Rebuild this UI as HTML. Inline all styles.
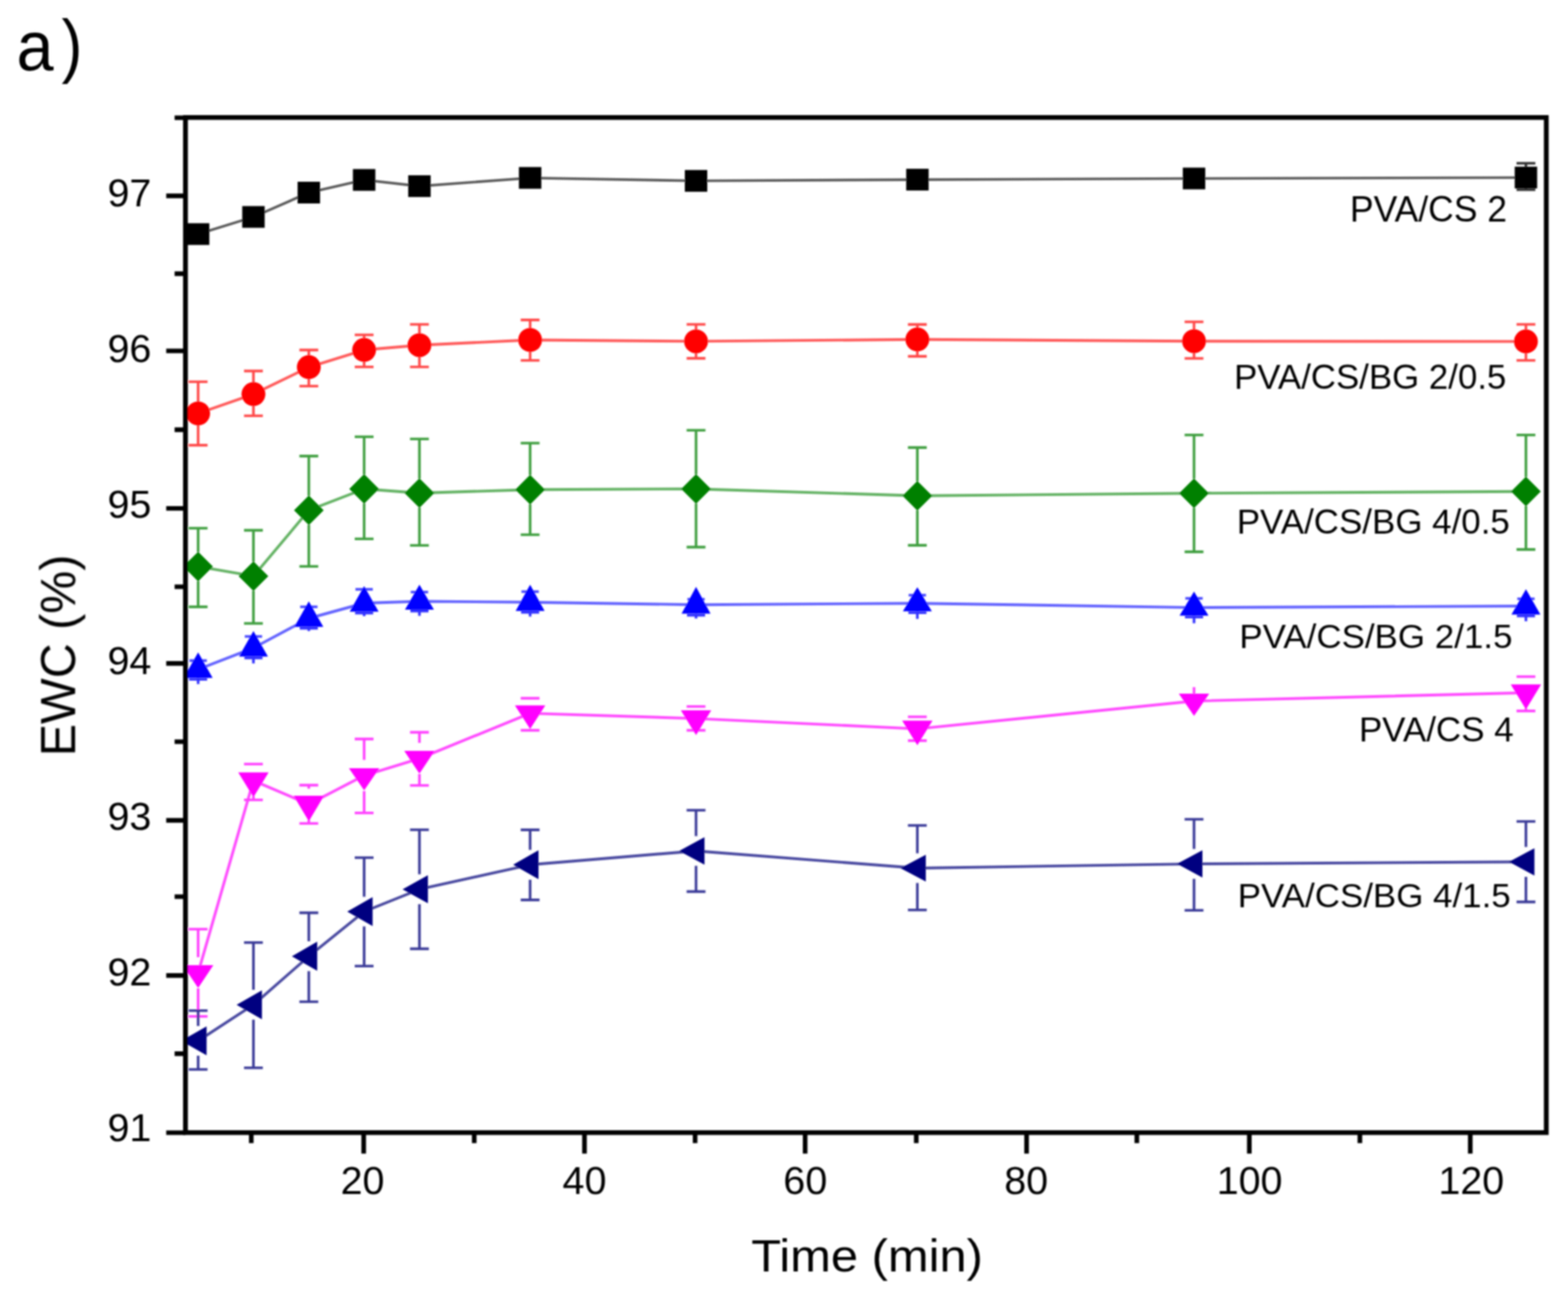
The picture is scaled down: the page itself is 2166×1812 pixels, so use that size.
<!DOCTYPE html>
<html><head><meta charset="utf-8"><title>EWC vs Time</title>
<style>
html,body{margin:0;padding:0;background:#fff;}
svg{display:block;}
text{font-family:'Liberation Sans', Arial, Helvetica, sans-serif;fill:#000;}
</style></head>
<body>
<svg width="2166" height="1812" viewBox="0 0 2166 1812">
<rect width="2166" height="1812" fill="#fff"/>
<defs><filter id="soft" x="0" y="0" width="2166" height="1812" filterUnits="userSpaceOnUse"><feGaussianBlur stdDeviation="0.8"/></filter><clipPath id="pa"><rect x="256.2" y="0" width="1910" height="1812"/></clipPath></defs>
<g filter="url(#soft)">
<g id="series" clip-path="url(#pa)">
<polyline points="273.7,323.3 350.1,299.6 426.6,266 503,248.5 579.4,257.1 732.3,245.7 961.5,249.8 1267.2,248.1 1649.4,246.5 2107.9,245.2" fill="none" stroke="#5a5a5a" stroke-width="3.6" stroke-linejoin="round"/>
<path d="M2107.9 225.5V262M2094.9 225.5H2120.9M2094.9 262H2120.9" stroke="#333" stroke-width="3.6" fill="none"/>
<rect x="258.2" y="308.3" width="31" height="30" fill="#000"/>
<rect x="334.6" y="284.6" width="31" height="30" fill="#000"/>
<rect x="411.1" y="251" width="31" height="30" fill="#000"/>
<rect x="487.5" y="233.5" width="31" height="30" fill="#000"/>
<rect x="563.9" y="242.1" width="31" height="30" fill="#000"/>
<rect x="716.8" y="230.7" width="31" height="30" fill="#000"/>
<rect x="946" y="234.8" width="31" height="30" fill="#000"/>
<rect x="1251.8" y="233.1" width="31" height="30" fill="#000"/>
<rect x="1633.9" y="231.5" width="31" height="30" fill="#000"/>
<rect x="2092.4" y="230.2" width="31" height="30" fill="#000"/>
<polyline points="273.7,571 350.1,544.3 426.6,507.1 503,483.3 579.4,476.7 732.3,469.5 961.5,471.4 1267.2,468.8 1649.4,471.2 2107.9,471.6" fill="none" stroke="#ff5a5a" stroke-width="3.9" stroke-linejoin="round"/>
<path d="M273.7 527.2V555M273.7 587V614.9M260.7 527.2H286.7M260.7 614.9H286.7" stroke="#ff4a4a" stroke-width="3.6" fill="none"/>
<path d="M350.1 512.4V528.3M350.1 560.3V574.3M337.1 512.4H363.1M337.1 574.3H363.1" stroke="#ff4a4a" stroke-width="3.6" fill="none"/>
<path d="M426.6 483.4V491.1M426.6 523.1V533.3M413.6 483.4H439.6M413.6 533.3H439.6" stroke="#ff4a4a" stroke-width="3.6" fill="none"/>
<path d="M503 462.5V467.3M503 499.3V506.7M490 462.5H516M490 506.7H516" stroke="#ff4a4a" stroke-width="3.6" fill="none"/>
<path d="M579.4 448V460.7M579.4 492.7V506.7M566.4 448H592.4M566.4 506.7H592.4" stroke="#ff4a4a" stroke-width="3.6" fill="none"/>
<path d="M732.3 441.9V453.5M732.3 485.5V497.7M719.3 441.9H745.3M719.3 497.7H745.3" stroke="#ff4a4a" stroke-width="3.6" fill="none"/>
<path d="M961.5 448V455.4M961.5 487.4V494.9M948.5 448H974.5M948.5 494.9H974.5" stroke="#ff4a4a" stroke-width="3.6" fill="none"/>
<path d="M1267.2 448.1V452.8M1267.2 484.8V492.1M1254.2 448.1H1280.2M1254.2 492.1H1280.2" stroke="#ff4a4a" stroke-width="3.6" fill="none"/>
<path d="M1649.4 444.5V455.2M1649.4 487.2V495M1636.4 444.5H1662.4M1636.4 495H1662.4" stroke="#ff4a4a" stroke-width="3.6" fill="none"/>
<path d="M2107.9 448V455.6M2107.9 487.6V497.7M2094.9 448H2120.9M2094.9 497.7H2120.9" stroke="#ff4a4a" stroke-width="3.6" fill="none"/>
<circle cx="273.7" cy="571" r="16.5" fill="#f00"/>
<circle cx="350.1" cy="544.3" r="16.5" fill="#f00"/>
<circle cx="426.6" cy="507.1" r="16.5" fill="#f00"/>
<circle cx="503" cy="483.3" r="16.5" fill="#f00"/>
<circle cx="579.4" cy="476.7" r="16.5" fill="#f00"/>
<circle cx="732.3" cy="469.5" r="16.5" fill="#f00"/>
<circle cx="961.5" cy="471.4" r="16.5" fill="#f00"/>
<circle cx="1267.2" cy="468.8" r="16.5" fill="#f00"/>
<circle cx="1649.4" cy="471.2" r="16.5" fill="#f00"/>
<circle cx="2107.9" cy="471.6" r="16.5" fill="#f00"/>
<polyline points="273.7,782.4 350.1,795.7 426.6,704.8 503,675.2 579.4,681 732.3,676.2 961.5,675.2 1267.2,684.8 1649.4,681.2 2107.9,678.8" fill="none" stroke="#64b264" stroke-width="3.9" stroke-linejoin="round"/>
<path d="M273.7 729.5V762.4M273.7 802.4V838.1M260.7 729.5H286.7M260.7 838.1H286.7" stroke="#3f9f3f" stroke-width="3.6" fill="none"/>
<path d="M350.1 732.4V775.7M350.1 815.7V861M337.1 732.4H363.1M337.1 861H363.1" stroke="#3f9f3f" stroke-width="3.6" fill="none"/>
<path d="M426.6 629.9V684.8M426.6 724.8V782.3M413.6 629.9H439.6M413.6 782.3H439.6" stroke="#3f9f3f" stroke-width="3.6" fill="none"/>
<path d="M503 603.2V655.2M503 695.2V744.2M490 603.2H516M490 744.2H516" stroke="#3f9f3f" stroke-width="3.6" fill="none"/>
<path d="M579.4 606.3V661M579.4 701V753.3M566.4 606.3H592.4M566.4 753.3H592.4" stroke="#3f9f3f" stroke-width="3.6" fill="none"/>
<path d="M732.3 612V656.2M732.3 696.2V738.5M719.3 612H745.3M719.3 738.5H745.3" stroke="#3f9f3f" stroke-width="3.6" fill="none"/>
<path d="M961.5 594.3V655.2M961.5 695.2V755.6M948.5 594.3H974.5M948.5 755.6H974.5" stroke="#3f9f3f" stroke-width="3.6" fill="none"/>
<path d="M1267.2 618.1V664.8M1267.2 704.8V753.1M1254.2 618.1H1280.2M1254.2 753.1H1280.2" stroke="#3f9f3f" stroke-width="3.6" fill="none"/>
<path d="M1649.4 600.7V661.2M1649.4 701.2V762.1M1636.4 600.7H1662.4M1636.4 762.1H1662.4" stroke="#3f9f3f" stroke-width="3.6" fill="none"/>
<path d="M2107.9 600.7V658.8M2107.9 698.8V758.9M2094.9 600.7H2120.9M2094.9 758.9H2120.9" stroke="#3f9f3f" stroke-width="3.6" fill="none"/>
<path d="M273.7 761.9L294.2 782.4L273.7 802.9L253.2 782.4Z" fill="#008000"/>
<path d="M350.1 775.2L370.6 795.7L350.1 816.2L329.6 795.7Z" fill="#008000"/>
<path d="M426.6 684.3L447.1 704.8L426.6 725.3L406.1 704.8Z" fill="#008000"/>
<path d="M503 654.7L523.5 675.2L503 695.7L482.5 675.2Z" fill="#008000"/>
<path d="M579.4 660.5L599.9 681L579.4 701.5L558.9 681Z" fill="#008000"/>
<path d="M732.3 655.7L752.8 676.2L732.3 696.7L711.8 676.2Z" fill="#008000"/>
<path d="M961.5 654.7L982 675.2L961.5 695.7L941 675.2Z" fill="#008000"/>
<path d="M1267.2 664.3L1287.8 684.8L1267.2 705.3L1246.8 684.8Z" fill="#008000"/>
<path d="M1649.4 660.7L1669.9 681.2L1649.4 701.7L1628.9 681.2Z" fill="#008000"/>
<path d="M2107.9 658.3L2128.4 678.8L2107.9 699.3L2087.4 678.8Z" fill="#008000"/>
<polyline points="273.7,924.5 350.1,894.9 426.6,854 503,833 579.4,830.5 732.3,831.7 961.5,835.2 1267.2,833.2 1649.4,839.1 2107.9,837" fill="none" stroke="#6464ff" stroke-width="3.9" stroke-linejoin="round"/>
<path d="M261.7 912.4H285.7" stroke="#4a4aff" stroke-width="3.6" fill="none"/>
<path d="M273.7 936.2V944.8M261.2 938.2H286.2" stroke="#3030ff" stroke-width="3.6" fill="none"/>
<path d="M338.1 879H362.1" stroke="#4a4aff" stroke-width="3.6" fill="none"/>
<path d="M350.1 906.7V916.2M337.6 908.7H362.6" stroke="#3030ff" stroke-width="3.6" fill="none"/>
<path d="M414.6 838.1H438.6" stroke="#4a4aff" stroke-width="3.6" fill="none"/>
<path d="M426.6 865.7V871.5M414.1 867.7H439.1" stroke="#3030ff" stroke-width="3.6" fill="none"/>
<path d="M491 813.9H515" stroke="#4a4aff" stroke-width="3.6" fill="none"/>
<path d="M503 844.8V851.1M490.5 846.8H515.5" stroke="#3030ff" stroke-width="3.6" fill="none"/>
<path d="M567.4 817.7H591.4" stroke="#4a4aff" stroke-width="3.6" fill="none"/>
<path d="M579.4 841.9V850.5M566.9 843.9H591.9" stroke="#3030ff" stroke-width="3.6" fill="none"/>
<path d="M720.3 817.1H744.3" stroke="#4a4aff" stroke-width="3.6" fill="none"/>
<path d="M732.3 843.8V851.5M719.8 845.8H744.8" stroke="#3030ff" stroke-width="3.6" fill="none"/>
<path d="M949.5 827.6H973.5" stroke="#4a4aff" stroke-width="3.6" fill="none"/>
<path d="M961.5 847.6V854.3M949 849.6H974" stroke="#3030ff" stroke-width="3.6" fill="none"/>
<path d="M1255.2 822H1279.2" stroke="#4a4aff" stroke-width="3.6" fill="none"/>
<path d="M1267.2 844.3V854.8M1254.8 846.3H1279.8" stroke="#3030ff" stroke-width="3.6" fill="none"/>
<path d="M1637.4 826.4H1661.4" stroke="#4a4aff" stroke-width="3.6" fill="none"/>
<path d="M1649.4 850.2V860.8M1636.9 852.2H1661.9" stroke="#3030ff" stroke-width="3.6" fill="none"/>
<path d="M2095.9 827H2119.9" stroke="#4a4aff" stroke-width="3.6" fill="none"/>
<path d="M2107.9 848.7V858M2095.4 850.7H2120.4" stroke="#3030ff" stroke-width="3.6" fill="none"/>
<path d="M273.7 901L293.7 936.2L253.7 936.2Z" fill="#00f"/>
<path d="M350.1 871.4L370.1 906.7L330.1 906.7Z" fill="#00f"/>
<path d="M426.6 830.5L446.6 865.7L406.6 865.7Z" fill="#00f"/>
<path d="M503 809.5L523 844.8L483 844.8Z" fill="#00f"/>
<path d="M579.4 807.6L599.4 841.9L559.4 841.9Z" fill="#00f"/>
<path d="M732.3 807.6L752.3 843.8L712.3 843.8Z" fill="#00f"/>
<path d="M961.5 810.5L981.5 847.6L941.5 847.6Z" fill="#00f"/>
<path d="M1267.2 811L1287.2 844.3L1247.2 844.3Z" fill="#00f"/>
<path d="M1649.4 816.9L1669.4 850.2L1629.4 850.2Z" fill="#00f"/>
<path d="M2107.9 813.7L2127.9 848.7L2087.9 848.7Z" fill="#00f"/>
<polyline points="273.7,1343.6 350.1,1078.1 426.6,1110.8 503,1071.1 579.4,1047.6 732.3,985.1 961.5,992.4 1267.2,1006.6 1649.4,968.2 2107.9,956.8" fill="none" stroke="#ff4cff" stroke-width="3.9" stroke-linejoin="round"/>
<path d="M273.7 1283.3V1322.1M273.7 1365.1V1403.8M260.7 1283.3H286.7M260.7 1403.8H286.7" stroke="#ff40ff" stroke-width="3.6" fill="none"/>
<path d="M350.1 1055.2V1056.6M350.1 1099.6V1104.8M337.1 1055.2H363.1M337.1 1104.8H363.1" stroke="#ff40ff" stroke-width="3.6" fill="none"/>
<path d="M426.6 1084.4V1089.3M426.6 1132.3V1137.3M413.6 1084.4H439.6M413.6 1137.3H439.6" stroke="#ff40ff" stroke-width="3.6" fill="none"/>
<path d="M503 1020.6V1049.6M503 1092.6V1122.8M490 1020.6H516M490 1122.8H516" stroke="#ff40ff" stroke-width="3.6" fill="none"/>
<path d="M579.4 1011.4V1026.1M579.4 1069.1V1084.8M566.4 1011.4H592.4M566.4 1084.8H592.4" stroke="#ff40ff" stroke-width="3.6" fill="none"/>
<path d="M732.3 1006.6V1008.6M719.3 964.4H745.3M719.3 1008.6H745.3" stroke="#ff40ff" stroke-width="3.6" fill="none"/>
<path d="M948.5 975.8H974.5M948.5 1008.6H974.5" stroke="#ff40ff" stroke-width="3.6" fill="none"/>
<path d="M1254.2 990H1280.2M1254.2 1022.9H1280.2" stroke="#ff40ff" stroke-width="3.6" fill="none"/>
<path d="M1649.4 949V957.9" stroke="#ff40ff" stroke-width="3.6" fill="none"/>
<path d="M2107.9 934.5V935.3M2107.9 978.3V981.9M2094.9 934.5H2120.9M2094.9 981.9H2120.9" stroke="#ff40ff" stroke-width="3.6" fill="none"/>
<path d="M252.7 1333.1L294.7 1333.1L273.7 1364.5Z" fill="#f0f"/>
<path d="M329.1 1066.7L371.1 1066.7L350.1 1101Z" fill="#f0f"/>
<path d="M405.6 1099L447.6 1099L426.6 1134.3Z" fill="#f0f"/>
<path d="M482 1061L524 1061L503 1091.4Z" fill="#f0f"/>
<path d="M558.4 1037.1L600.4 1037.1L579.4 1068.6Z" fill="#f0f"/>
<path d="M711.3 974.3L753.3 974.3L732.3 1006.7Z" fill="#f0f"/>
<path d="M940.5 981L982.5 981L961.5 1015.2Z" fill="#f0f"/>
<path d="M1246.2 995.2L1288.2 995.2L1267.2 1029.3Z" fill="#f0f"/>
<path d="M1628.4 957.9L1670.4 957.9L1649.4 988.8Z" fill="#f0f"/>
<path d="M2086.9 945.3L2128.9 945.3L2107.9 979.8Z" fill="#f0f"/>
<polyline points="273.7,1437.5 350.1,1387.7 426.6,1320.7 503,1259 579.4,1228.2 732.3,1194.3 961.5,1175.2 1267.2,1199 1649.4,1193.1 2107.9,1190.3" fill="none" stroke="#4a4aa0" stroke-width="3.9" stroke-linejoin="round"/>
<path d="M273.7 1395.8V1416.9M273.7 1458.1V1477M260.7 1395.8H286.7M260.7 1477H286.7" stroke="#3a3a98" stroke-width="3.6" fill="none"/>
<path d="M350.1 1301.7V1367.1M350.1 1408.3V1474.8M337.1 1301.7H363.1M337.1 1474.8H363.1" stroke="#3a3a98" stroke-width="3.6" fill="none"/>
<path d="M426.6 1260.6V1300.1M426.6 1341.2V1383.5M413.6 1260.6H439.6M413.6 1383.5H439.6" stroke="#3a3a98" stroke-width="3.6" fill="none"/>
<path d="M503 1184.5V1238.4M503 1279.6V1334.2M490 1184.5H516M490 1334.2H516" stroke="#3a3a98" stroke-width="3.6" fill="none"/>
<path d="M579.4 1146V1207.6M579.4 1248.8V1310.4M566.4 1146H592.4M566.4 1310.4H592.4" stroke="#3a3a98" stroke-width="3.6" fill="none"/>
<path d="M732.3 1146.1V1173.7M732.3 1214.9V1242.9M719.3 1146.1H745.3M719.3 1242.9H745.3" stroke="#3a3a98" stroke-width="3.6" fill="none"/>
<path d="M961.5 1119V1154.7M961.5 1195.8V1231.4M948.5 1119H974.5M948.5 1231.4H974.5" stroke="#3a3a98" stroke-width="3.6" fill="none"/>
<path d="M1267.2 1140V1178.4M1267.2 1219.5V1256.7M1254.2 1140H1280.2M1254.2 1256.7H1280.2" stroke="#3a3a98" stroke-width="3.6" fill="none"/>
<path d="M1649.4 1131.5V1172.5M1649.4 1213.7V1257.2M1636.4 1131.5H1662.4M1636.4 1257.2H1662.4" stroke="#3a3a98" stroke-width="3.6" fill="none"/>
<path d="M2107.9 1134.5V1169.7M2107.9 1210.9V1245.6M2094.9 1134.5H2120.9M2094.9 1245.6H2120.9" stroke="#3a3a98" stroke-width="3.6" fill="none"/>
<path d="M250.4 1437.5L285.4 1417.5L285.4 1457.5Z" fill="#000080"/>
<path d="M326.8 1387.7L361.8 1367.7L361.8 1407.7Z" fill="#000080"/>
<path d="M403.2 1320.7L438.2 1300.6L438.2 1340.7Z" fill="#000080"/>
<path d="M479.7 1259L514.7 1239L514.7 1279Z" fill="#000080"/>
<path d="M556.1 1228.2L591.1 1208.7L591.1 1247.6Z" fill="#000080"/>
<path d="M708.9 1194.3L743.9 1174.3L743.9 1214.3Z" fill="#000080"/>
<path d="M938.2 1175.2L973.2 1156.2L973.2 1194.3Z" fill="#000080"/>
<path d="M1243.9 1199L1278.9 1180.5L1278.9 1217.4Z" fill="#000080"/>
<path d="M1626 1193.1L1661 1174.3L1661 1211.9Z" fill="#000080"/>
<path d="M2084.6 1190.3L2119.6 1171.4L2119.6 1209.2Z" fill="#000080"/>
</g>
<g id="axes">
<path d="M256.2 162.2H2136V1564.2H256.2Z" fill="none" stroke="#000" stroke-width="6.6" stroke-linejoin="miter"/>
<path d="M229.6 1564.4H256.2M241.2 1455.3H256.2M229.6 1347.3H256.2M241.2 1238.4H256.2M229.6 1133H256.2M241.2 1024.4H256.2M229.6 916.3H256.2M241.2 810.4H256.2M229.6 702.1H256.2M241.2 593.5H256.2M229.6 484.6H256.2M241.2 378H256.2M229.6 270.5H256.2M241.2 162.6H256.2M347.1 1564.2V1578.8M502.4 1564.2V1593.3M655.1 1564.2V1578.8M807.4 1564.2V1593.3M960.2 1564.2V1578.8M1112.2 1564.2V1593.3M1265.7 1564.2V1578.8M1418.1 1564.2V1593.3M1570.4 1564.2V1578.8M1725.8 1564.2V1593.3M1878.5 1564.2V1578.8M2031 1564.2V1593.3" stroke="#000" stroke-width="6.4" fill="none"/>
</g>
<g id="labels">
<text transform="translate(22.65 96.63) scale(0.4608 0.4845)" font-size="200">a</text>
<text transform="translate(84.93 95.58) scale(0.4327 0.4909)" font-size="200">)</text>
<text transform="translate(1037.71 1755.93) scale(0.3377 0.3112)" font-size="200">Time (min)</text>
<text transform="translate(103.54 1044.45) rotate(-90) scale(0.3344 0.3396)" font-size="200">EWC (%)</text>
<text transform="translate(1864.78 306.31) scale(0.2452 0.2463)" font-size="200">PVA/CS 2</text>
<text transform="translate(1704.75 537.12) scale(0.2405 0.2395)" font-size="200">PVA/CS/BG 2/0.5</text>
<text transform="translate(1708.44 736.82) scale(0.2413 0.2388)" font-size="200">PVA/CS/BG 4/0.5</text>
<text transform="translate(1712.04 894.74) scale(0.2413 0.2313)" font-size="200">PVA/CS/BG 2/1.5</text>
<text transform="translate(1877.14 1023.82) scale(0.2414 0.2388)" font-size="200">PVA/CS 4</text>
<text transform="translate(1709.84 1252.64) scale(0.2411 0.2313)" font-size="200">PVA/CS/BG 4/1.5</text>
</g>
<g font-size="54.5" text-anchor="end">
<text x="209" y="1575.8">91</text>
<text x="209" y="1360.7">92</text>
<text x="209" y="1145.6">93</text>
<text x="209" y="930.5">94</text>
<text x="209" y="715.4">95</text>
<text x="209" y="500.3">96</text>
<text x="209" y="285.2">97</text>
</g>
<g font-size="54.5" text-anchor="middle">
<text x="500.8" y="1648.8">20</text>
<text x="807.4" y="1648.8">40</text>
<text x="1112.4" y="1648.8">60</text>
<text x="1417.6" y="1648.8">80</text>
<text x="1726.1" y="1648.8">100</text>
<text x="2032.4" y="1648.8">120</text>
</g>
</g>
</svg>
</body></html>
